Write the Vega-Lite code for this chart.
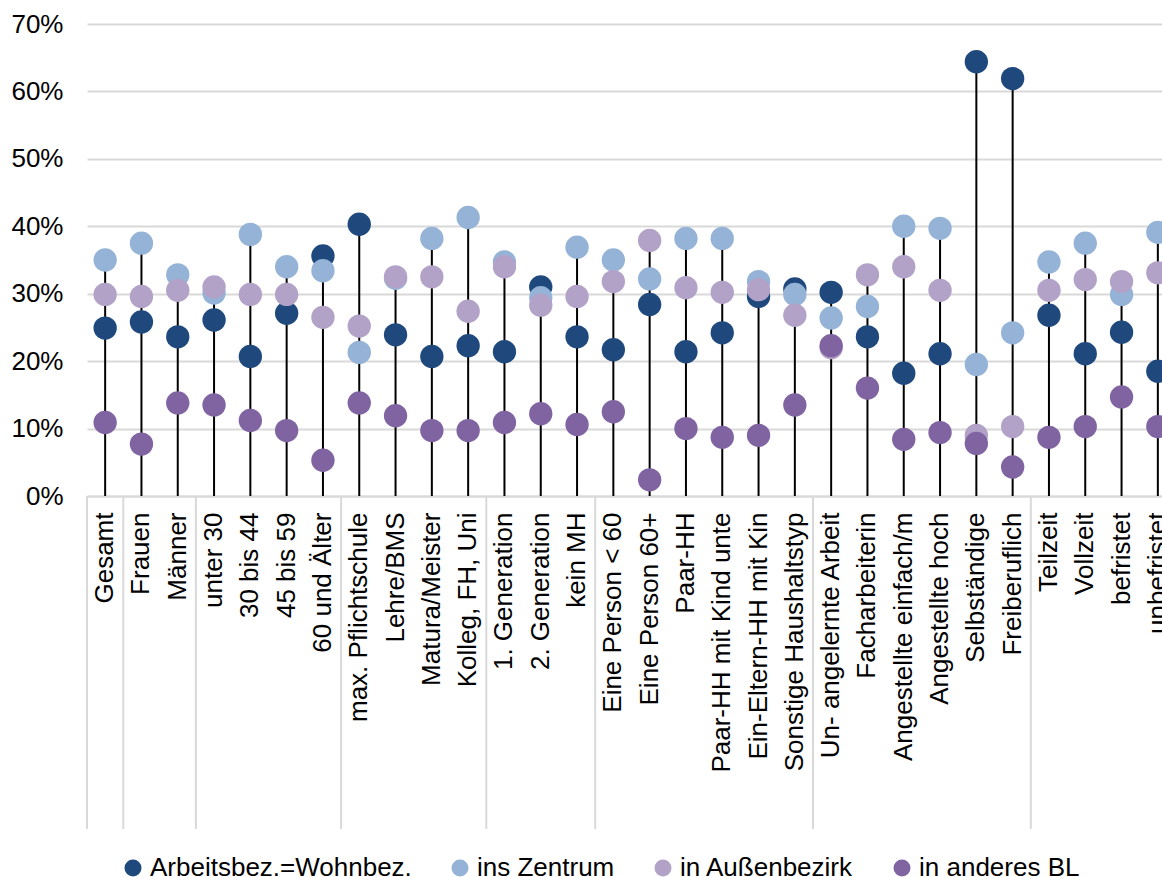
{
  "$schema": "https://vega.github.io/schema/vega-lite/v6.json",
  "autosize": {"type": "none"},
  "width": 1075,
  "height": 472,
  "padding": {"left": 87, "top": 24, "right": 0, "bottom": 381},
  "background": "white",
  "config": {
    "view": {"stroke": null},
    "font": "Liberation Sans",
    "axis": {"labelFont": "Liberation Sans", "labelColor": "#000000"},
    "legend": {"labelFont": "Liberation Sans", "labelColor": "#000000"}
  },
  "datasets": {
    "groups": [
      {"category": "Gesamt"},
      {"category": "Frauen"},
      {"category": "unter 30"},
      {"category": "max. Pflichtschule"},
      {"category": "1. Generation"},
      {"category": "Eine Person < 60"},
      {"category": "Un- angelernte Arbeit"},
      {"category": "Teilzeit"}
    ],
    "shares": [
      {"category": "Gesamt", "series": "Arbeitsbez.=Wohnbez.", "share": 24.9},
      {"category": "Gesamt", "series": "ins Zentrum", "share": 35.0},
      {"category": "Gesamt", "series": "in Außenbezirk", "share": 29.9},
      {"category": "Gesamt", "series": "in anderes BL", "share": 10.9},
      {"category": "Frauen", "series": "Arbeitsbez.=Wohnbez.", "share": 25.8},
      {"category": "Frauen", "series": "ins Zentrum", "share": 37.5},
      {"category": "Frauen", "series": "in Außenbezirk", "share": 29.6},
      {"category": "Frauen", "series": "in anderes BL", "share": 7.7},
      {"category": "Männer", "series": "Arbeitsbez.=Wohnbez.", "share": 23.6},
      {"category": "Männer", "series": "ins Zentrum", "share": 32.8},
      {"category": "Männer", "series": "in Außenbezirk", "share": 30.5},
      {"category": "Männer", "series": "in anderes BL", "share": 13.8},
      {"category": "unter 30", "series": "Arbeitsbez.=Wohnbez.", "share": 26.1},
      {"category": "unter 30", "series": "ins Zentrum", "share": 30.1},
      {"category": "unter 30", "series": "in Außenbezirk", "share": 31.0},
      {"category": "unter 30", "series": "in anderes BL", "share": 13.5},
      {"category": "30 bis 44", "series": "Arbeitsbez.=Wohnbez.", "share": 20.7},
      {"category": "30 bis 44", "series": "ins Zentrum", "share": 38.8},
      {"category": "30 bis 44", "series": "in Außenbezirk", "share": 29.9},
      {"category": "30 bis 44", "series": "in anderes BL", "share": 11.2},
      {"category": "45 bis 59", "series": "Arbeitsbez.=Wohnbez.", "share": 27.1},
      {"category": "45 bis 59", "series": "ins Zentrum", "share": 34.0},
      {"category": "45 bis 59", "series": "in Außenbezirk", "share": 29.9},
      {"category": "45 bis 59", "series": "in anderes BL", "share": 9.7},
      {"category": "60 und Älter", "series": "Arbeitsbez.=Wohnbez.", "share": 35.6},
      {"category": "60 und Älter", "series": "ins Zentrum", "share": 33.4},
      {"category": "60 und Älter", "series": "in Außenbezirk", "share": 26.5},
      {"category": "60 und Älter", "series": "in anderes BL", "share": 5.3},
      {"category": "max. Pflichtschule", "series": "Arbeitsbez.=Wohnbez.", "share": 40.3},
      {"category": "max. Pflichtschule", "series": "ins Zentrum", "share": 21.3},
      {"category": "max. Pflichtschule", "series": "in Außenbezirk", "share": 25.2},
      {"category": "max. Pflichtschule", "series": "in anderes BL", "share": 13.8},
      {"category": "Lehre/BMS", "series": "Arbeitsbez.=Wohnbez.", "share": 23.9},
      {"category": "Lehre/BMS", "series": "ins Zentrum", "share": 32.3},
      {"category": "Lehre/BMS", "series": "in Außenbezirk", "share": 32.5},
      {"category": "Lehre/BMS", "series": "in anderes BL", "share": 11.9},
      {"category": "Matura/Meister", "series": "Arbeitsbez.=Wohnbez.", "share": 20.7},
      {"category": "Matura/Meister", "series": "ins Zentrum", "share": 38.2},
      {"category": "Matura/Meister", "series": "in Außenbezirk", "share": 32.5},
      {"category": "Matura/Meister", "series": "in anderes BL", "share": 9.7},
      {"category": "Kolleg, FH, Uni", "series": "Arbeitsbez.=Wohnbez.", "share": 22.3},
      {"category": "Kolleg, FH, Uni", "series": "ins Zentrum", "share": 41.3},
      {"category": "Kolleg, FH, Uni", "series": "in Außenbezirk", "share": 27.4},
      {"category": "Kolleg, FH, Uni", "series": "in anderes BL", "share": 9.7},
      {"category": "1. Generation", "series": "Arbeitsbez.=Wohnbez.", "share": 21.4},
      {"category": "1. Generation", "series": "ins Zentrum", "share": 34.7},
      {"category": "1. Generation", "series": "in Außenbezirk", "share": 34.0},
      {"category": "1. Generation", "series": "in anderes BL", "share": 10.9},
      {"category": "2. Generation", "series": "Arbeitsbez.=Wohnbez.", "share": 31.0},
      {"category": "2. Generation", "series": "ins Zentrum", "share": 29.4},
      {"category": "2. Generation", "series": "in Außenbezirk", "share": 28.3},
      {"category": "2. Generation", "series": "in anderes BL", "share": 12.2},
      {"category": "kein MH", "series": "Arbeitsbez.=Wohnbez.", "share": 23.6},
      {"category": "kein MH", "series": "ins Zentrum", "share": 36.9},
      {"category": "kein MH", "series": "in Außenbezirk", "share": 29.6},
      {"category": "kein MH", "series": "in anderes BL", "share": 10.6},
      {"category": "Eine Person < 60", "series": "Arbeitsbez.=Wohnbez.", "share": 21.7},
      {"category": "Eine Person < 60", "series": "ins Zentrum", "share": 35.0},
      {"category": "Eine Person < 60", "series": "in Außenbezirk", "share": 31.8},
      {"category": "Eine Person < 60", "series": "in anderes BL", "share": 12.5},
      {"category": "Eine Person 60+", "series": "Arbeitsbez.=Wohnbez.", "share": 28.4},
      {"category": "Eine Person 60+", "series": "ins Zentrum", "share": 32.2},
      {"category": "Eine Person 60+", "series": "in Außenbezirk", "share": 37.9},
      {"category": "Eine Person 60+", "series": "in anderes BL", "share": 2.4},
      {"category": "Paar-HH", "series": "Arbeitsbez.=Wohnbez.", "share": 21.4},
      {"category": "Paar-HH", "series": "ins Zentrum", "share": 38.2},
      {"category": "Paar-HH", "series": "in Außenbezirk", "share": 30.9},
      {"category": "Paar-HH", "series": "in anderes BL", "share": 10.0},
      {"category": "Paar-HH mit Kind unte", "series": "Arbeitsbez.=Wohnbez.", "share": 24.2},
      {"category": "Paar-HH mit Kind unte", "series": "ins Zentrum", "share": 38.2},
      {"category": "Paar-HH mit Kind unte", "series": "in Außenbezirk", "share": 30.2},
      {"category": "Paar-HH mit Kind unte", "series": "in anderes BL", "share": 8.7},
      {"category": "Ein-Eltern-HH mit Kin", "series": "Arbeitsbez.=Wohnbez.", "share": 29.6},
      {"category": "Ein-Eltern-HH mit Kin", "series": "ins Zentrum", "share": 31.8},
      {"category": "Ein-Eltern-HH mit Kin", "series": "in Außenbezirk", "share": 30.6},
      {"category": "Ein-Eltern-HH mit Kin", "series": "in anderes BL", "share": 9.0},
      {"category": "Sonstige Haushaltstyp", "series": "Arbeitsbez.=Wohnbez.", "share": 30.7},
      {"category": "Sonstige Haushaltstyp", "series": "ins Zentrum", "share": 29.9},
      {"category": "Sonstige Haushaltstyp", "series": "in Außenbezirk", "share": 26.8},
      {"category": "Sonstige Haushaltstyp", "series": "in anderes BL", "share": 13.5},
      {"category": "Un- angelernte Arbeit", "series": "Arbeitsbez.=Wohnbez.", "share": 30.2},
      {"category": "Un- angelernte Arbeit", "series": "ins Zentrum", "share": 26.4},
      {"category": "Un- angelernte Arbeit", "series": "in Außenbezirk", "share": 22.0},
      {"category": "Un- angelernte Arbeit", "series": "in anderes BL", "share": 22.3},
      {"category": "Facharbeiterin", "series": "Arbeitsbez.=Wohnbez.", "share": 23.6},
      {"category": "Facharbeiterin", "series": "ins Zentrum", "share": 28.1},
      {"category": "Facharbeiterin", "series": "in Außenbezirk", "share": 32.8},
      {"category": "Facharbeiterin", "series": "in anderes BL", "share": 16.0},
      {"category": "Angestellte einfach/m", "series": "Arbeitsbez.=Wohnbez.", "share": 18.2},
      {"category": "Angestellte einfach/m", "series": "ins Zentrum", "share": 40.0},
      {"category": "Angestellte einfach/m", "series": "in Außenbezirk", "share": 34.0},
      {"category": "Angestellte einfach/m", "series": "in anderes BL", "share": 8.4},
      {"category": "Angestellte hoch", "series": "Arbeitsbez.=Wohnbez.", "share": 21.1},
      {"category": "Angestellte hoch", "series": "ins Zentrum", "share": 39.7},
      {"category": "Angestellte hoch", "series": "in Außenbezirk", "share": 30.5},
      {"category": "Angestellte hoch", "series": "in anderes BL", "share": 9.4},
      {"category": "Selbständige", "series": "Arbeitsbez.=Wohnbez.", "share": 64.4},
      {"category": "Selbständige", "series": "ins Zentrum", "share": 19.5},
      {"category": "Selbständige", "series": "in Außenbezirk", "share": 9.0},
      {"category": "Selbständige", "series": "in anderes BL", "share": 7.8},
      {"category": "Freiberuflich", "series": "Arbeitsbez.=Wohnbez.", "share": 61.9},
      {"category": "Freiberuflich", "series": "ins Zentrum", "share": 24.2},
      {"category": "Freiberuflich", "series": "in Außenbezirk", "share": 10.3},
      {"category": "Freiberuflich", "series": "in anderes BL", "share": 4.3},
      {"category": "Teilzeit", "series": "Arbeitsbez.=Wohnbez.", "share": 26.8},
      {"category": "Teilzeit", "series": "ins Zentrum", "share": 34.7},
      {"category": "Teilzeit", "series": "in Außenbezirk", "share": 30.5},
      {"category": "Teilzeit", "series": "in anderes BL", "share": 8.7},
      {"category": "Vollzeit", "series": "Arbeitsbez.=Wohnbez.", "share": 21.1},
      {"category": "Vollzeit", "series": "ins Zentrum", "share": 37.5},
      {"category": "Vollzeit", "series": "in Außenbezirk", "share": 32.1},
      {"category": "Vollzeit", "series": "in anderes BL", "share": 10.3},
      {"category": "befristet", "series": "Arbeitsbez.=Wohnbez.", "share": 24.3},
      {"category": "befristet", "series": "ins Zentrum", "share": 29.9},
      {"category": "befristet", "series": "in Außenbezirk", "share": 31.8},
      {"category": "befristet", "series": "in anderes BL", "share": 14.7},
      {"category": "unbefristet", "series": "Arbeitsbez.=Wohnbez.", "share": 18.5},
      {"category": "unbefristet", "series": "ins Zentrum", "share": 39.1},
      {"category": "unbefristet", "series": "in Außenbezirk", "share": 33.1},
      {"category": "unbefristet", "series": "in anderes BL", "share": 10.3}
    ]
  },
  "layer": [
    {
      "data": {"name": "groups"},
      "mark": {"type": "rule", "color": "#d9d9d9", "strokeWidth": 2},
      "encoding": {
        "x": {
          "field": "category", "type": "nominal", "bandPosition": 0,
          "scale": {"type": "band", "range": [0, 1089], "paddingInner": 0, "paddingOuter": 0,
            "domain": ["Gesamt", "Frauen", "Männer", "unter 30", "30 bis 44", "45 bis 59", "60 und Älter", "max. Pflichtschule", "Lehre/BMS", "Matura/Meister", "Kolleg, FH, Uni", "1. Generation", "2. Generation", "kein MH", "Eine Person < 60", "Eine Person 60+", "Paar-HH", "Paar-HH mit Kind unte", "Ein-Eltern-HH mit Kin", "Sonstige Haushaltstyp", "Un- angelernte Arbeit", "Facharbeiterin", "Angestellte einfach/m", "Angestellte hoch", "Selbständige", "Freiberuflich", "Teilzeit", "Vollzeit", "befristet", "unbefristet"]}
        },
        "y": {"datum": 0, "type": "quantitative", "scale": {"domain": [0, 70], "nice": false, "clamp": false}},
        "y2": {"datum": -49.4}
      }
    },
    {
      "data": {"name": "shares"},
      "transform": [
        {"aggregate": [{"op": "max", "field": "share", "as": "top"}], "groupby": ["category"]}
      ],
      "mark": {"type": "rule", "color": "#000000", "strokeWidth": 2},
      "encoding": {
        "x": {"field": "category", "type": "nominal"},
        "y": {"field": "top", "type": "quantitative"},
        "y2": {"datum": 0}
      }
    },
    {
      "data": {"name": "shares"},
      "mark": {"type": "circle", "opacity": 1, "size": 545},
      "encoding": {
        "x": {
          "field": "category", "type": "nominal",
          "axis": {
            "title": null, "labelAngle": -90, "labelAlign": "right", "labelBaseline": "middle",
            "labelPadding": 16, "labelFontSize": 26, "labelLimit": 0, "labelOverlap": false,
            "ticks": false, "domain": true, "domainColor": "#d9d9d9", "domainWidth": 2, "grid": false
          }
        },
        "y": {
          "field": "share", "type": "quantitative",
          "axis": {
            "title": null, "values": [0, 10, 20, 30, 40, 50, 60, 70],
            "labelExpr": "datum.value + '%'", "labelFontSize": 26, "labelPadding": 24,
            "ticks": false, "domain": false, "grid": true, "gridColor": "#d9d9d9", "gridWidth": 2
          }
        },
        "color": {
          "field": "series", "type": "nominal",
          "scale": {
            "domain": ["Arbeitsbez.=Wohnbez.", "ins Zentrum", "in Außenbezirk", "in anderes BL"],
            "range": ["#1f497d", "#95b3d7", "#b3a2c7", "#8064a2"]
          },
          "legend": {
            "title": null, "orient": "none", "legendX": 33, "legendY": 831,
            "direction": "horizontal", "columns": 4, "padding": 0,
            "symbolType": "circle", "symbolSize": 289, "symbolStrokeWidth": 0, "symbolOpacity": 1,
            "labelFontSize": 26, "labelOffset": 4, "columnPadding": 35, "labelLimit": 400
          }
        }
      }
    }
  ]
}
